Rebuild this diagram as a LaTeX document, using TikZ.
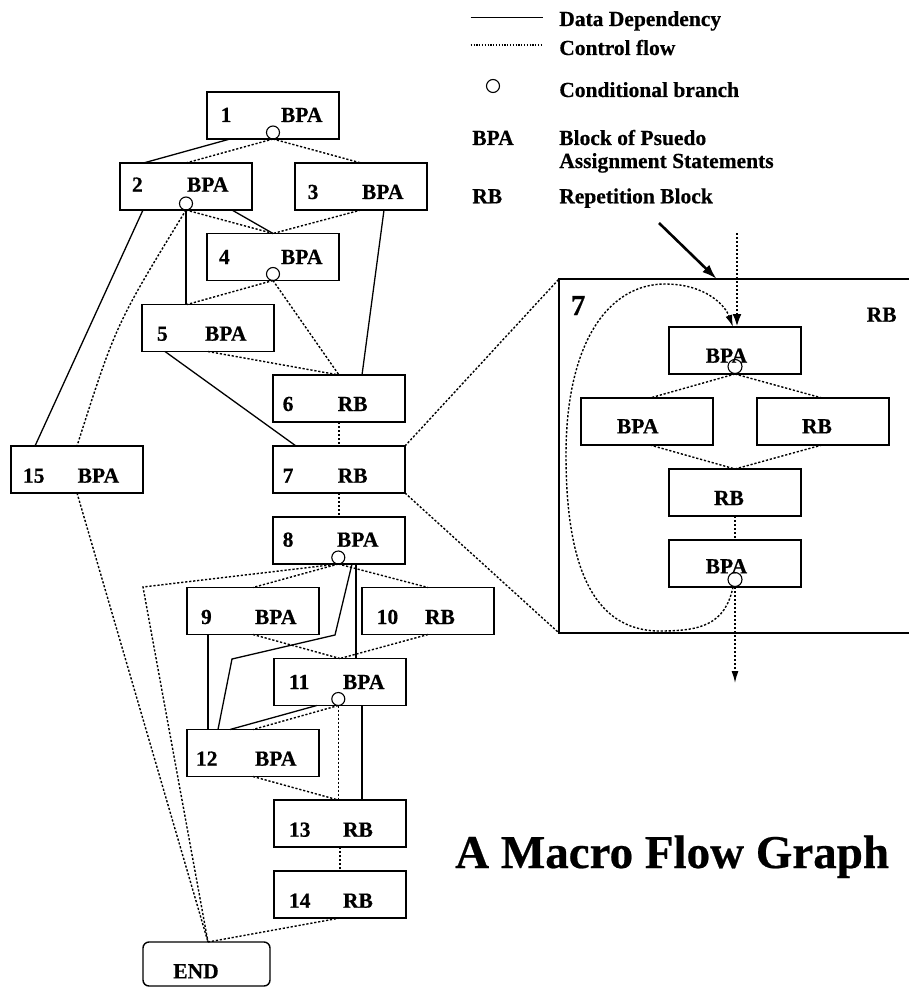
\documentclass[tikz,border=0pt]{standalone}
\usepackage{fontspec}
\setmainfont{Liberation Serif}[BoldFeatures={FakeBold=0.5}]
\usetikzlibrary{arrows.meta,calc}
\newcommand{\lblfont}{\fontsize{21.5}{24}\selectfont\bfseries}
\newcommand{\bigsevenfont}{\fontsize{29}{32}\selectfont\bfseries}
\newcommand{\titlefont}{\fontsize{47}{50}\selectfont\bfseries}
\begin{document}
\begin{tikzpicture}[x=1pt,y=-1pt,
  box/.style={draw, line width=1.4pt, minimum width=132pt, minimum height=47pt, inner sep=0pt, outer sep=0pt},
  lbl/.style={anchor=base west, inner sep=0pt, outer sep=0pt, font=\lblfont},
  cond/.style={draw, circle, minimum size=13pt, inner sep=0pt, line width=1.1pt},
  dep/.style={line width=1.3pt},
  ctl/.style={line width=1.4pt, dash pattern=on 2.2pt off 1.8pt},
  ctlthick/.style={line width=2.8pt, dash pattern=on 2pt off 2pt},
]
\useasboundingbox (0,0) rectangle (908,987);

% ---------------- legend ----------------
\coordinate (lg1a) at (470.7,17.7); \coordinate (lg1b) at (543,17.7);
\draw[dep] (lg1a) -- (lg1b);
\coordinate (lg2a) at (470.7,45); \coordinate (lg2b) at (543,45);
\draw[line width=1.1pt, dash pattern=on 1.2pt off 1.6pt] (lg2a) -- (lg2b);
\node[cond] (lgc) at (493,86) {};
\node[lbl] (lgt1) at (559.3,26) {Data Dependency};
\node[lbl] (lgt2) at (559.3,55) {Control flow};
\node[lbl] (lgt3) at (559.3,97) {Conditional branch};
\node[lbl] (lgt4) at (472.3,145) {BPA};
\node[lbl] (lgt5) at (559.3,145) {Block of Psuedo};
\node[lbl] (lgt6) at (559.3,168) {Assignment Statements};
\node[lbl] (lgt7) at (472.3,203.3) {RB};
\node[lbl] (lgt8) at (559.3,203.3) {Repetition Block};

% ---------------- main graph boxes ----------------
\node[box] (n1) at (273,115.5) {};
\node[box] (n2) at (186,186.5) {};
\node[box] (n3) at (361,186.5) {};
\node[box] (n4) at (273,257) {};
\node[box] (n5) at (208,328) {};
\node[box] (n6) at (339,398.5) {};
\node[box] (n7) at (339,469.5) {};
\node[box] (n8) at (339,540.5) {};
\node[box] (n9) at (253,611) {};
\node[box] (n10) at (428,611) {};
\node[box] (n11) at (340,682) {};
\node[box] (n12) at (253,753) {};
\node[box] (n13) at (340,823.5) {};
\node[box] (n14) at (340,894.5) {};
\node[box] (n15) at (77,469.5) {};
\node[box, minimum width=127pt, minimum height=44pt, rounded corners=6pt] (end) at (206.5,964) {};

% labels
\node[lbl] (t1a) at (220.7,122) {1};   \node[lbl] (t1b) at (281,122) {BPA};
\node[lbl] (t2a) at (132,191.7) {2};   \node[lbl] (t2b) at (187,191.7) {BPA};
\node[lbl] (t3a) at (307.7,199) {3};   \node[lbl] (t3b) at (362,199) {BPA};
\node[lbl] (t4a) at (219,264) {4};     \node[lbl] (t4b) at (281,264) {BPA};
\node[lbl] (t5a) at (157,340.7) {5};   \node[lbl] (t5b) at (205,340.7) {BPA};
\node[lbl] (t6a) at (282.7,411) {6};   \node[lbl] (t6b) at (337.7,411) {RB};
\node[lbl] (t7a) at (282.7,482.7) {7}; \node[lbl] (t7b) at (337.7,482.7) {RB};
\node[lbl] (t8a) at (282.7,546.7) {8}; \node[lbl] (t8b) at (337,546.7) {BPA};
\node[lbl] (t9a) at (201,624) {9};     \node[lbl] (t9b) at (255,624) {BPA};
\node[lbl] (t10a) at (376.7,624) {10}; \node[lbl] (t10b) at (425,624) {RB};
\node[lbl] (t11a) at (289,689) {11};   \node[lbl] (t11b) at (343,689) {BPA};
\node[lbl] (t12a) at (196,765.7) {12}; \node[lbl] (t12b) at (255,765.7) {BPA};
\node[lbl] (t13a) at (289,836.7) {13}; \node[lbl] (t13b) at (343,836.7) {RB};
\node[lbl] (t14a) at (289,907.7) {14}; \node[lbl] (t14b) at (343,907.7) {RB};
\node[lbl] (t15a) at (23,482.7) {15};  \node[lbl] (t15b) at (77.7,482.7) {BPA};
\node[lbl] (tend) at (173.3,978.3) {END};

% conditional branches
\node[cond] (c1) at (273,132.5) {};
\node[cond] (c2) at (186,203.5) {};
\node[cond] (c4) at (273,274) {};
\node[cond] (c8) at (338.3,557.5) {};
\node[cond] (c11) at (338.3,699) {};

% ---------------- data dependencies ----------------
\draw[dep] ([xshift=-43pt]n1.south) -- ([xshift=-42.5pt]n2.north);
\draw[dep] ([xshift=-43pt]n2.south) -- ([xshift=-42pt]n15.north);
\draw[dep] ([xshift=46pt]n2.south) -- (n4.north);
\coordinate (s2) at (n2.south);
\draw[dep] (s2) -- (s2 |- n5.north);
\draw[dep] ([xshift=23pt]n3.south) -- ([xshift=23pt]n6.north);
\draw[dep] ([xshift=-43pt]n5.south) -- ([xshift=-43pt]n7.north);
\coordinate (k1) at (335,635);
\coordinate (k2) at (232,659);
\draw[dep] ([xshift=13pt]n8.south) -- (k1) -- (k2) -- ([xshift=-35pt]n12.north);
\coordinate (s8) at ([xshift=17pt]n8.south);
\draw[dep] (s8) -- (s8 |- n11.north);
\coordinate (s9) at ([xshift=-45pt]n9.south);
\draw[dep] (s9) -- (s9 |- n12.north);
\draw[dep] ([xshift=-23.3pt]n11.south) -- ([xshift=-23pt]n12.north);
\coordinate (s11) at ([xshift=22pt]n11.south);
\draw[dep] (s11) -- (s11 |- n13.north);

% ---------------- control flow ----------------
\draw[ctl] (n1.south) -- (n2.north);
\draw[ctl] (n1.south) -- (n3.north);
\draw[ctl] (n2.south) .. controls (116,324) .. (n15.north);
\draw[ctl] (n2.south) -- (n4.north);
\draw[ctl] (n3.south) -- (n4.north);
\draw[ctl] (n4.south) -- ([xshift=-21pt]n5.north);
\draw[ctl] (n4.south) -- (n6.north);
\draw[ctl] (n5.south) -- (n6.north);
\draw[ctl] (n6.south) -- (n7.north);
\draw[ctl] (n7.south) -- (n8.north);
\draw[ctl] ([xshift=-0.7pt]n8.south) -- (n9.north);
\draw[ctl] ([xshift=-0.7pt]n8.south) -- (n10.north);
\coordinate (k3) at (143,587);
\draw[ctl] ([xshift=-0.7pt]n8.south) -- (k3) -- ([xshift=1.5pt]end.north);
\draw[ctl] (n15.south) -- ([xshift=1.5pt]end.north);
\draw[ctl] (n9.south) -- (n11.north);
\draw[ctl] (n10.south) -- (n11.north);
\draw[ctl] ([xshift=-1.7pt]n11.south) -- (n12.north);
\draw[ctl] ([xshift=-1.7pt]n11.south) -- ([xshift=-1.7pt]n13.north);
\draw[ctl] (n12.south) -- ([xshift=-1.7pt]n13.north);
\draw[ctl] (n13.south) -- (n14.north);
\draw[ctl] (n14.south) -- ([xshift=1.5pt]end.north);

% ---------------- expanded RB 7 ----------------
\node[box, minimum width=356pt, minimum height=354pt] (big) at (737,456) {};
\node[anchor=base west, inner sep=0pt, font=\bigsevenfont] (b7) at (570.7,315) {7};
\node[lbl] (bRB) at (866.7,321.7) {RB};
\draw[ctl] (n7.north east) -- (big.north west);
\draw[ctl] (n7.south east) -- (big.south west);

\node[box] (r1) at (735,350.5) {};
\node[box] (r2) at (647,421.5) {};
\node[box] (r3) at (823,421.5) {};
\node[box] (r4) at (735,492.5) {};
\node[box] (r5) at (735,563.5) {};
\node[lbl] (tr1) at (705.7,362.7) {BPA};
\node[lbl] (tr2) at (617,433.3) {BPA};
\node[lbl] (tr3) at (802,433.3) {RB};
\node[lbl] (tr4) at (714,505) {RB};
\node[lbl] (tr5) at (705.7,573.3) {BPA};
\node[cond, minimum size=14pt] (cr1) at (735,366.5) {};
\node[cond, minimum size=14pt] (cr5) at (735,579.5) {};

\draw[ctl] (r1.south) -- ([xshift=3pt]r2.north);
\draw[ctl] (r1.south) -- ([xshift=-1pt]r3.north);
\draw[ctl] ([xshift=3pt]r2.south) -- (r4.north);
\draw[ctl] ([xshift=-1pt]r3.south) -- (r4.north);
\draw[ctl] (r4.south) -- (r5.north);
\coordinate (outarrow) at (735,683);
\draw[ctl, -{Latex[length=12pt,width=7pt]}] (r5.south) -- (outarrow);
% loop back
\draw[ctl, -{Latex[length=12pt,width=7pt]}] ([xshift=-2pt]r5.south)
  .. controls (725,625) and (700,631) .. (660,631)
  .. controls (590,631) and (566,560) .. (566,455)
  .. controls (566,340) and (610,284) .. (665,284)
  .. controls (705,284) and (725,305) .. ([xshift=-2pt]r1.north);
% incoming arrows
\coordinate (inctl) at (737,233);
\draw[ctlthick, -{Latex[length=13pt,width=9pt]}] (inctl) -- ([xshift=2pt]r1.north);
\coordinate (inptr) at (659,223);
\draw[line width=2.6pt, -{Latex[length=15pt,width=10pt]}] (inptr) -- ([xshift=157.7pt]big.north west);

% ---------------- title ----------------
\node[anchor=base west, inner sep=0pt, font=\titlefont] (title) at (455,868) {A Macro Flow Graph};
\end{tikzpicture}
\end{document}
